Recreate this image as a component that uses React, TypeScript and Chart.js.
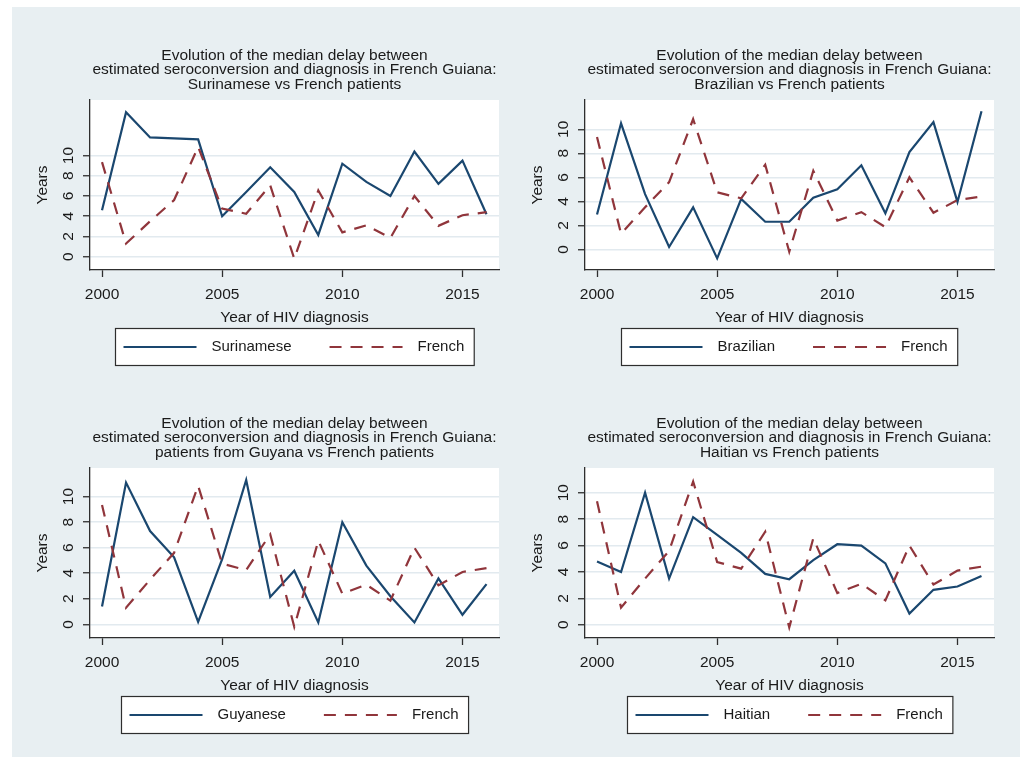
import React, { useEffect, useRef } from "react";
import { Chart, registerables } from "chart.js";

Chart.register(...registerables);

// ---------- data ----------
const years = [2000, 2001, 2002, 2003, 2004, 2005, 2006, 2007, 2008, 2009, 2010, 2011, 2012, 2013, 2014, 2015, 2016];
const french = [9.35, 1.3, 3.5, 5.6, 10.85, 4.75, 4.25, 7.05, -0.2, 6.55, 2.4, 3.1, 1.85, 6.0, 3.05, 4.1, 4.4];
const surinamese = [4.6, 14.3, 11.8, 11.7, 11.6, 4.0, 6.4, 8.85, 6.4, 2.15, 9.2, 7.4, 6.0, 10.4, 7.2, 9.5, 4.2];
const brazilian = [2.9, 10.5, 4.6, 0.2, 3.5, -0.75, 4.2, 2.3, 2.3, 4.3, 5.0, 7.0, 3.0, 8.1, 10.6, 3.95, 11.5];
const guyanese = [1.4, 11.1, 7.3, 5.25, 0.2, 5.1, 11.3, 2.15, 4.2, 0.15, 8.0, 4.6, 2.2, 0.15, 3.6, 0.75, 3.15];
const haitian = [4.8, 4.0, 10.0, 3.5, 8.15, 6.8, 5.45, 3.85, 3.45, 4.9, 6.1, 6.0, 4.65, 0.85, 2.65, 2.9, 3.7];

const yTickValues = [0, 2, 4, 6, 8, 10];
const xTickValues = [2000, 2005, 2010, 2015];

const titleLine1 = "Evolution of the median delay between";
const titleLine2 = "estimated seroconversion and diagnosis in French Guiana:";
const panelSubtitles = [
  "Surinamese vs French patients",
  "Brazilian vs French patients",
  "patients from Guyana vs French patients",
  "Haitian vs French patients",
];
const panelLabels = ["Surinamese", "Brazilian", "Guyanese", "Haitian"];
const frenchLabel = "French";
const panelSeries = [surinamese, brazilian, guyanese, haitian];
const panelYMin = [-1.32, -1.72, -1.07, -1.0];
const panelYMax = [15.5, 12.44, 12.24, 11.87];
const xMin = 1999.5;
const xMax = 2016.52;
const xTitle = "Year of HIV diagnosis";
const yTitle = "Years";

// ---------- styles ----------
const FONT = '"Liberation Sans", Arial, sans-serif';
const NAVY = "#1a476f";
const MAROON = "#90353b";
const TEXT = "#1a1a1a";
const AXIS = "#2e2e2e";
const GRID = "#e2eaef";
const BG = "#e8eff2";
const W = 495;
const H = 368;

const plotBgPlugin = {
  id: "plotBg",
  beforeDraw(chart: any) {
    const { ctx, chartArea } = chart;
    ctx.save();
    ctx.fillStyle = "#ffffff";
    ctx.fillRect(chartArea.left, chartArea.top, chartArea.right - chartArea.left, chartArea.bottom - chartArea.top);
    ctx.restore();
  },
};

const yRotLabelsPlugin = {
  id: "yRotLabels",
  afterDraw(chart: any) {
    const { ctx } = chart;
    const scale = chart.scales.y;
    ctx.save();
    ctx.font = `15.5px ${FONT}`;
    ctx.fillStyle = TEXT;
    ctx.textAlign = "center";
    ctx.textBaseline = "middle";
    for (const t of scale.ticks) {
      const y = scale.getPixelForValue(t.value);
      ctx.save();
      ctx.translate(scale.right - 21, y);
      ctx.rotate(-Math.PI / 2);
      ctx.fillText(String(t.value), 0, 0);
      ctx.restore();
    }
    ctx.restore();
  },
};

const boxLegendPlugin = {
  id: "boxLegend",
  afterDraw(chart: any) {
    const { ctx, chartArea } = chart;
    const ds = chart.data.datasets;
    ctx.save();
    ctx.font = `15px ${FONT}`;
    const sample = 73;
    const gapText = 15;
    const gapItem = 38;
    const padL = 8;
    const padR = 10;
    const widths = ds.map((d: any) => ctx.measureText(d.label).width);
    let total = padL + padR;
    ds.forEach((_: any, i: number) => {
      total += sample + gapText + widths[i];
      if (i > 0) total += gapItem;
    });
    const cx = (chartArea.left + chartArea.right) / 2;
    const x0 = Math.round(cx - total / 2) + 0.5;
    const top = chart.height - 47 + 0.5;
    const h = 37;
    ctx.fillStyle = "#ffffff";
    ctx.fillRect(x0, top, total, h);
    ctx.strokeStyle = AXIS;
    ctx.lineWidth = 1.2;
    ctx.strokeRect(x0, top, total, h);
    const cy = top + h / 2;
    let x = x0 + padL;
    ds.forEach((d: any, i: number) => {
      if (i > 0) x += gapItem;
      ctx.beginPath();
      ctx.setLineDash(d.borderDash || []);
      ctx.strokeStyle = d.borderColor;
      ctx.lineWidth = d.borderWidth;
      ctx.moveTo(x, cy);
      ctx.lineTo(x + sample, cy);
      ctx.stroke();
      ctx.setLineDash([]);
      x += sample + gapText;
      ctx.fillStyle = TEXT;
      ctx.textAlign = "left";
      ctx.textBaseline = "middle";
      ctx.fillText(d.label, x, cy);
      x += widths[i];
    });
    ctx.restore();
  },
};

function Panel({ idx, left, top }: { idx: number; left: number; top: number }) {
  const ref = useRef<HTMLCanvasElement>(null);
  useEffect(() => {
    const series = panelSeries[idx];
    const chart = new Chart(ref.current as HTMLCanvasElement, {
      type: "line",
      data: {
        datasets: [
          {
            label: panelLabels[idx],
            data: years.map((x, i) => ({ x, y: series[i] })),
            borderColor: NAVY,
            borderWidth: 2.2,
            pointRadius: 0,
            tension: 0,
            order: 1,
          },
          {
            label: frenchLabel,
            data: years.map((x, i) => ({ x, y: french[i] })),
            borderColor: MAROON,
            borderWidth: 2.2,
            borderDash: [12, 9],
            pointRadius: 0,
            tension: 0,
            order: 0,
          },
        ],
      },
      options: {
        responsive: false,
        animation: false,
        devicePixelRatio: 1,
        layout: { padding: { top: 0, right: 8, bottom: 48, left: 0 } },
        plugins: {
          legend: { display: false },
          tooltip: { enabled: false },
          title: {
            display: true,
            text: [titleLine1, titleLine2],
            fullSize: false,
            color: TEXT,
            font: { family: FONT, size: 15.5, weight: "normal", lineHeight: "14.7px" },
            padding: { top: 41.15, bottom: 0 },
          },
          subtitle: {
            display: true,
            text: panelSubtitles[idx],
            fullSize: false,
            color: TEXT,
            font: { family: FONT, size: 15.5, weight: "normal", lineHeight: "14.7px" },
            padding: { top: 0, bottom: 7.75 },
          },
        },
        scales: {
          x: {
            type: "linear",
            min: xMin,
            max: xMax,
            afterBuildTicks: (s: any) => {
              s.ticks = xTickValues.map((v) => ({ value: v }));
            },
            afterFit: (s: any) => {
              s.height = 57;
            },
            ticks: {
              font: { family: FONT, size: 15.5 },
              color: TEXT,
              padding: 8,
              maxRotation: 0,
              autoSkip: false,
              callback: (v: any) => String(v),
            },
            grid: {
              drawOnChartArea: false,
              drawTicks: true,
              tickLength: 7,
              tickColor: AXIS,
              tickWidth: 1.3,
            },
            border: { display: true, color: AXIS, width: 1.3 },
            title: {
              display: true,
              text: xTitle,
              color: TEXT,
              font: { family: FONT, size: 15.5 },
              padding: { top: 0, bottom: 0 },
            },
          },
          y: {
            type: "linear",
            min: panelYMin[idx],
            max: panelYMax[idx],
            afterBuildTicks: (s: any) => {
              s.ticks = yTickValues.map((v) => ({ value: v }));
            },
            afterFit: (s: any) => {
              s.width = 78;
            },
            ticks: { display: false },
            grid: {
              color: GRID,
              lineWidth: 1.5,
              drawTicks: true,
              tickLength: 7,
              tickColor: AXIS,
              tickWidth: 1.3,
            },
            border: { display: true, color: AXIS, width: 1.3 },
            title: {
              display: true,
              text: yTitle,
              color: TEXT,
              font: { family: FONT, size: 15.5 },
              padding: { top: 21, bottom: 0 },
            },
          },
        },
      },
      plugins: [plotBgPlugin, yRotLabelsPlugin, boxLegendPlugin],
    } as any);
    return () => chart.destroy();
  }, [idx]);
  return (
    <canvas
      ref={ref}
      width={W}
      height={H}
      style={{ position: "absolute", left, top, width: W, height: H }}
    />
  );
}

export default function App() {
  return (
    <div style={{ position: "absolute", left: 0, top: 0, width: 1024, height: 757, background: "#ffffff", overflow: "hidden" }}>
      <div style={{ position: "absolute", left: 12, top: 7, width: 1008, height: 750, background: BG }} />
      {[0, 1, 2, 3].map((i) => (
        <Panel key={i} idx={i} left={12 + (i % 2) * W} top={7 + Math.floor(i / 2) * H} />
      ))}
    </div>
  );
}
